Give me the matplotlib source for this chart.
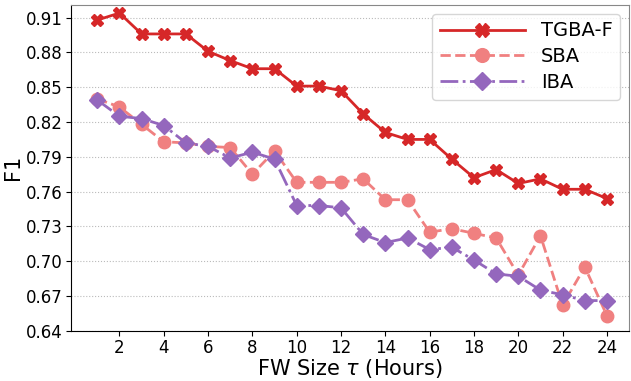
import matplotlib
matplotlib.use("Agg")
import matplotlib.pyplot as plt

hours = list(range(1, 25))
tgba_f = [0.908, 0.914, 0.896, 0.896, 0.896, 0.881, 0.873, 0.866, 0.866, 0.851, 0.851, 0.847,
          0.827, 0.811, 0.805, 0.805, 0.788, 0.772, 0.779, 0.767, 0.771, 0.762, 0.762, 0.754]
sba = [0.840, 0.833, 0.818, 0.803, 0.802, 0.799, 0.798, 0.775, 0.795, 0.768, 0.768, 0.768,
       0.771, 0.753, 0.753, 0.725, 0.728, 0.724, 0.720, 0.688, 0.722, 0.662, 0.695, 0.653]
iba = [0.839, 0.825, 0.823, 0.817, 0.802, 0.799, 0.789, 0.794, 0.788, 0.748, 0.748, 0.746,
       0.723, 0.716, 0.720, 0.710, 0.712, 0.701, 0.689, 0.687, 0.675, 0.671, 0.666, 0.666]
xticks = [2, 4, 6, 8, 10, 12, 14, 16, 18, 20, 22, 24]
yticks = [0.64, 0.67, 0.70, 0.73, 0.76, 0.79, 0.82, 0.85, 0.88, 0.91]

plt.rcParams["font.family"] = ["DejaVu Sans"]

fig, ax = plt.subplots(figsize=(6.31, 3.81), dpi=100)
ax.plot(hours, tgba_f, color="#d62728", linestyle="-", marker="X", markersize=9, linewidth=2, label="TGBA-F")
ax.plot(hours, sba, color="#f08080", linestyle="--", marker="o", markersize=9, linewidth=2, label="SBA")
ax.plot(hours, iba, color="#9467bd", linestyle="-.", marker="D", markersize=8, linewidth=2, label="IBA")

ax.set_xlim(-0.2, 25)
ax.set_ylim(0.64, 0.921)
ax.set_xticks(xticks)
ax.set_yticks(yticks)
ax.set_yticklabels([f"{v:.2f}" for v in yticks])
ax.tick_params(labelsize=12, pad=2.5)
ax.yaxis.grid(True, linestyle=":", color="#bbbbbb", linewidth=0.8)
ax.set_axisbelow(True)
for s in ["top", "right"]:
    ax.spines[s].set_color("#888888")
ax.set_xlabel(r"FW Size $\tau$ (Hours)", fontsize=15, labelpad=0)
ax.set_ylabel("F1", fontsize=15, labelpad=2)
ax.legend(loc="upper right", fontsize=14, handlelength=4.4, borderaxespad=0.45,
          labelspacing=0.35, markerscale=1.1)
fig.subplots_adjust(left=0.112, right=0.997, top=0.987, bottom=0.132)
fig.savefig("out.png", dpi=100)
